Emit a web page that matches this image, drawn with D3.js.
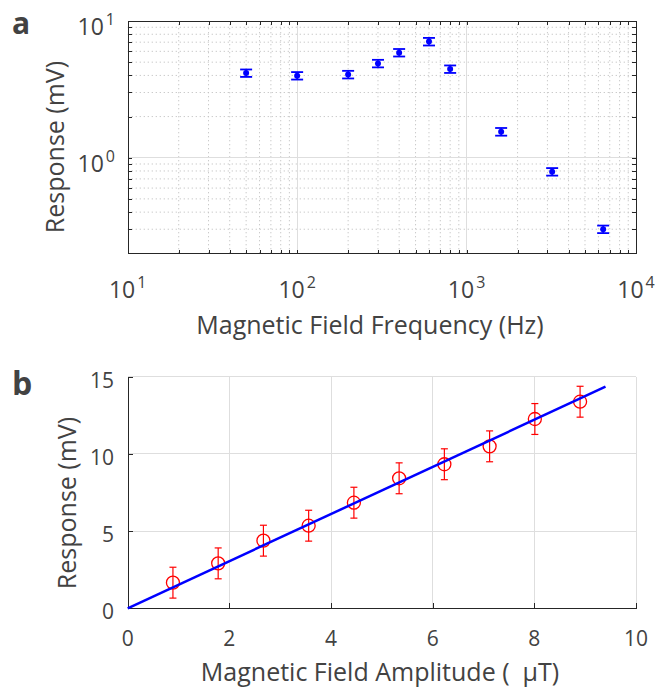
<!DOCTYPE html>
<meta charset="utf-8">
<style>
body { margin: 0; background: #fff; }
svg { display: block; }
text { font-family: "Open Sans", sans-serif; fill: #424242; }
.axis path, .axis line { stroke: #262626; shape-rendering: crispEdges; }
.grid-major line { stroke: #dedede; stroke-width: 1; shape-rendering: crispEdges; }
.grid-minor line { stroke: #c4c4c4; stroke-width: 1; stroke-dasharray: 1.2,2.8; }
</style>
<body>
<script src="https://cdn.jsdelivr.net/npm/d3@7"></script>
<script>
// panel a: frequency response (log-log)
var freq = [50, 100, 200, 300, 400, 600, 800, 1600, 3200, 6400];
var respA = [4.16, 3.98, 4.06, 4.89, 5.87, 7.07, 4.45, 1.55, 0.79, 0.30];
var errA = [0.26, 0.25, 0.26, 0.31, 0.37, 0.45, 0.28, 0.10, 0.05, 0.019];
var freqMajor = [10, 100, 1000, 10000];
var respMajor = [1, 10];

// panel b: amplitude response (linear)
var amp = [0.89, 1.78, 2.67, 3.56, 4.45, 5.34, 6.23, 7.12, 8.01, 8.90];
var respB = [1.66, 2.91, 4.38, 5.35, 6.84, 8.42, 9.33, 10.49, 12.26, 13.38];
var errB = [1.0, 1.0, 1.0, 1.0, 1.0, 1.0, 1.0, 1.0, 1.0, 1.0];
var fitX = [0, 9.4];
var fitY = [0, 14.35];
var ampTicks = [0, 2, 4, 6, 8, 10];
var respBTicks = [0, 5, 10, 15];

var svg = d3.select("body").append("svg")
    .attr("width", 655)
    .attr("height", 689);

// ---------- panel a ----------
var xA = d3.scaleLog().domain([10, 10000]).range([127.7, 636]);
var yA = d3.scaleLog().domain([0.2, 10]).range([253.3, 21]);

var xMinor = xA.ticks().filter(function(d) { return freqMajor.indexOf(d) < 0; });
var yMinor = yA.ticks().filter(function(d) { return respMajor.indexOf(d) < 0 && d > 0.2; });

var gA = svg.append("g");

gA.append("g").attr("class", "grid-minor")
    .selectAll("line.vx").data(xMinor).enter().append("line")
    .attr("x1", function(d) { return xA(d); }).attr("x2", function(d) { return xA(d); })
    .attr("y1", yA.range()[0]).attr("y2", yA.range()[1]);
gA.select(".grid-minor")
    .selectAll("line.hy").data(yMinor).enter().append("line")
    .attr("y1", function(d) { return yA(d); }).attr("y2", function(d) { return yA(d); })
    .attr("x1", xA.range()[0]).attr("x2", xA.range()[1]);

var gmA = gA.append("g").attr("class", "grid-major");
gmA.selectAll("line.vx").data([100, 1000]).enter().append("line")
    .attr("x1", function(d) { return xA(d); }).attr("x2", function(d) { return xA(d); })
    .attr("y1", yA.range()[0]).attr("y2", yA.range()[1]);
gmA.selectAll("line.hy").data([1]).enter().append("line")
    .attr("y1", function(d) { return yA(d); }).attr("y2", function(d) { return yA(d); })
    .attr("x1", xA.range()[0]).attr("x2", xA.range()[1]);

var xTicksA = xA.ticks();
var yTicksA = yA.ticks().filter(function(d) { return d >= 0.2; });

gA.append("g").attr("class", "axis")
    .attr("transform", "translate(0," + yA.range()[0] + ")")
    .call(d3.axisBottom(xA).tickValues(xTicksA).tickSize(-3.5).tickSizeOuter(0).tickFormat(""));
gA.append("g").attr("class", "axis")
    .attr("transform", "translate(0," + yA.range()[1] + ")")
    .call(d3.axisTop(xA).tickValues(xTicksA).tickSize(-3.5).tickSizeOuter(0).tickFormat(""));
gA.append("g").attr("class", "axis")
    .attr("transform", "translate(" + xA.range()[0] + ",0)")
    .call(d3.axisLeft(yA).tickValues(yTicksA).tickSize(-4.5).tickSizeOuter(0).tickFormat(""));
gA.append("g").attr("class", "axis")
    .attr("transform", "translate(" + xA.range()[1] + ",0)")
    .call(d3.axisRight(yA).tickValues(yTicksA).tickSize(-4.5).tickSizeOuter(0).tickFormat(""));

// power-of-ten tick labels
var xl = gA.selectAll("text.xl").data(freqMajor).enter().append("text")
    .attr("x", function(d) { return xA(d); })
    .attr("y", 298)
    .attr("text-anchor", "middle")
    .style("font-size", "23px");
xl.append("tspan").text("10");
xl.append("tspan").attr("dy", -10).attr("dx", 2).style("font-size", "16px")
    .text(function(d) { return Math.round(Math.log10(d)); });

var yl = gA.selectAll("text.yl").data(respMajor).enter().append("text")
    .attr("x", 115)
    .attr("y", function(d) { return yA(d) + 14; })
    .attr("text-anchor", "end")
    .style("font-size", "23px");
yl.append("tspan").text("10");
yl.append("tspan").attr("dy", -10).attr("dx", 2).style("font-size", "16px")
    .text(function(d) { return Math.round(Math.log10(d)); });

// error bars + points
var ptsA = gA.selectAll("g.pt").data(freq).enter().append("g");
ptsA.append("line")
    .attr("x1", function(d) { return xA(d); }).attr("x2", function(d) { return xA(d); })
    .attr("y1", function(d, i) { return yA(respA[i] - errA[i]); })
    .attr("y2", function(d, i) { return yA(respA[i] + errA[i]); })
    .attr("stroke", "#0000ff").attr("stroke-width", 1.5);
[-1, 1].forEach(function(s) {
    ptsA.append("line")
        .attr("x1", function(d) { return xA(d) - 6; }).attr("x2", function(d) { return xA(d) + 6; })
        .attr("y1", function(d, i) { return yA(respA[i] + s * errA[i]); })
        .attr("y2", function(d, i) { return yA(respA[i] + s * errA[i]); })
        .attr("stroke", "#0000ff").attr("stroke-width", 1.8);
});
ptsA.append("circle")
    .attr("cx", function(d) { return xA(d); })
    .attr("cy", function(d, i) { return yA(respA[i]); })
    .attr("r", 3)
    .attr("fill", "#0000ff");

gA.append("text")
    .attr("x", 370).attr("y", 334)
    .attr("text-anchor", "middle")
    .style("font-size", "25px")
    .text("Magnetic Field Frequency (Hz)");
gA.append("text")
    .attr("transform", "translate(64,147) rotate(-90)")
    .attr("text-anchor", "middle")
    .style("font-size", "25px")
    .text("Response (mV)");
gA.append("text")
    .attr("x", 12).attr("y", 34)
    .style("font-size", "30px").style("font-weight", "bold")
    .text("a");

// ---------- panel b ----------
var xB = d3.scaleLinear().domain([0, 10]).range([127.7, 636]);
var yB = d3.scaleLinear().domain([0, 15]).range([608.3, 376.7]);

var gB = svg.append("g");
var gmB = gB.append("g").attr("class", "grid-major");
gmB.selectAll("line.vx").data(ampTicks.slice(1)).enter().append("line")
    .attr("x1", function(d) { return xB(d); }).attr("x2", function(d) { return xB(d); })
    .attr("y1", yB.range()[0]).attr("y2", yB.range()[1]);
gmB.selectAll("line.hy").data(respBTicks.slice(1)).enter().append("line")
    .attr("y1", function(d) { return yB(d); }).attr("y2", function(d) { return yB(d); })
    .attr("x1", xB.range()[0]).attr("x2", xB.range()[1]);

gB.append("g").attr("class", "axis")
    .attr("transform", "translate(0," + yB.range()[0] + ")")
    .call(d3.axisBottom(xB).tickValues(ampTicks).tickSize(-5).tickSizeOuter(0).tickFormat(""));
gB.append("g").attr("class", "axis")
    .attr("transform", "translate(" + xB.range()[0] + ",0)")
    .call(d3.axisLeft(yB).tickValues(respBTicks).tickSize(-5).tickSizeOuter(0).tickFormat(""));

gB.selectAll("text.xl").data(ampTicks).enter().append("text")
    .attr("x", function(d) { return xB(d); })
    .attr("y", 646)
    .attr("text-anchor", "middle")
    .style("font-size", "21px")
    .text(function(d) { return d; });
gB.selectAll("text.yl").data(respBTicks).enter().append("text")
    .attr("x", 114)
    .attr("y", function(d) { return yB(d) + 11; })
    .attr("text-anchor", "end")
    .style("font-size", "21px")
    .text(function(d) { return d; });

var ptsB = gB.selectAll("g.pt").data(amp).enter().append("g");
ptsB.append("line")
    .attr("x1", function(d) { return xB(d); }).attr("x2", function(d) { return xB(d); })
    .attr("y1", function(d, i) { return yB(respB[i] - errB[i]); })
    .attr("y2", function(d, i) { return yB(respB[i] + errB[i]); })
    .attr("stroke", "#ff0000").attr("stroke-width", 1.2);
[-1, 1].forEach(function(s) {
    ptsB.append("line")
        .attr("x1", function(d) { return xB(d) - 3.5; }).attr("x2", function(d) { return xB(d) + 3.5; })
        .attr("y1", function(d, i) { return yB(respB[i] + s * errB[i]); })
        .attr("y2", function(d, i) { return yB(respB[i] + s * errB[i]); })
        .attr("stroke", "#ff0000").attr("stroke-width", 1.2);
});
ptsB.append("circle")
    .attr("cx", function(d) { return xB(d); })
    .attr("cy", function(d, i) { return yB(respB[i]); })
    .attr("r", 6.5)
    .attr("fill", "none")
    .attr("stroke", "#ff0000").attr("stroke-width", 1.3);

var line = d3.line()
    .x(function(d) { return xB(d[0]); })
    .y(function(d) { return yB(d[1]); });
gB.append("path")
    .datum(d3.zip(fitX, fitY))
    .attr("d", line)
    .attr("fill", "none")
    .attr("stroke", "#0000ff")
    .attr("stroke-width", 2.5);

gB.append("text")
    .attr("x", 380).attr("y", 681)
    .attr("text-anchor", "middle")
    .style("font-size", "25px")
    .style("white-space", "pre")
    .text("Magnetic Field Amplitude (  \u00b5T)");
gB.append("text")
    .attr("transform", "translate(76,503) rotate(-90)")
    .attr("text-anchor", "middle")
    .style("font-size", "25px")
    .text("Response (mV)");
gB.append("text")
    .attr("x", 12).attr("y", 395)
    .style("font-size", "32px").style("font-weight", "bold")
    .text("b");
</script>
</body>
